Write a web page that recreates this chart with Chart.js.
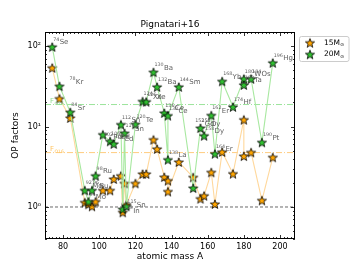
<!DOCTYPE html>
<html lang="en">
<head>
<meta charset="UTF-8">
<title>Pignatari+16 - OP factors</title>
<script src="https://cdn.jsdelivr.net/npm/chart.js@4.4.0/dist/chart.umd.min.js"></script>
<style>
    html, body { margin: 0; padding: 0; background: #ffffff; }
    #wrap { position: relative; width: 359px; height: 269px; }
</style>
</head>
<body>
<div id="wrap"><canvas id="opChart" width="359" height="269"></canvas></div>
<script>
// p-nuclei, mass number and overproduction factors
const elements = ['Se', 'Kr', 'Sr', 'Mo', 'Mo', 'Ru', 'Ru', 'Pd', 'Cd', 'Cd', 'Sn', 'In', 'Sn', 'Sn', 'Te',
    'Xe', 'Xe', 'Ba', 'Ba', 'Ce', 'La', 'Ce', 'Sm', 'Gd', 'Dy', 'Dy', 'Er', 'Er', 'Yb', 'Hf', 'W', 'Ta', 'Os', 'Pt', 'Hg'];
const massNumbers = [74, 78, 84, 92, 94, 96, 98, 102, 106, 108, 112, 113, 114, 115, 120,
    124, 126, 130, 132, 136, 138, 138, 144, 152, 156, 158, 162, 164, 168, 174, 180, 180, 184, 190, 196];
const op15 = [53.8, 22.3, 12.8, 1.14, 1.08, 1.02, 1.17, 1.61, 1.61, 2.23, 2.45, 0.86, 1.97, 1.07, 1.97,
    2.58, 2.58, 6.88, 5.28, 2.36, 2.13, 1.56, 3.63, 2.34, 1.27, 1.38, 2.7, 1.09, 4.84, 2.6, 12.2, 4.3, 4.78, 1.21, 4.15];
const op20 = [98, 31.8, 15.1, 1.61, 1.17, 1.61, 2.45, 7.95, 6.56, 6.1, 10.6, 0.94, 8.3, 1.02, 10.7,
    20.6, 20.4, 47.5, 31.2, 14.8, 3.88, 13.7, 31.2, 1.72, 9.6, 7.7, 13.8, 4.6, 36.6, 17.6, 39.3, 33, 39.3, 6.38, 62.1];
const seriesNames = ['15M', '20M'];

const fO16Level15 = 4.75;
const fO16Level20 = 18.8;
const unityLevel = 1;

const xTicks = [80, 100, 120, 140, 160, 180, 200];
const yTicks = [1, 10, 100];
const xRange = [70, 208.3];
const yRange = [0.4, 150];

// pixel nudges for labels that sit away from their star
const labelNudge = { 7: [0, 7], 1: [9, 0], 11: [0, 6], 13: [0, 3], 23: [1, -60] };

const ORANGE = '#ffa500';
const GREEN = '#2fbf2f';
const FONT = '"DejaVu Sans", sans-serif';

function starImage(fill) {
    const r = 4.8;
    const size = 12;
    const c = document.createElement('canvas');
    c.width = size;
    c.height = size;
    const g = c.getContext('2d');
    g.translate(size / 2, size / 2 + 0.6);
    g.beginPath();
    for (let i = 0; i < 10; i++) {
        const rad = i % 2 ? r * 0.42 : r;
        const a = -Math.PI / 2 + i * Math.PI / 5;
        g.lineTo(rad * Math.cos(a), rad * Math.sin(a));
    }
    g.closePath();
    g.fillStyle = fill;
    g.fill();
    g.lineWidth = 0.8;
    g.strokeStyle = '#000';
    g.stroke();
    return c;
}

const orangeStar = starImage(ORANGE);
const greenStar = starImage(GREEN);

function points(values) {
    return massNumbers.map((a, i) => ({ x: a, y: values[i] }));
}

function level(v) {
    return [{ x: xRange[0], y: v }, { x: xRange[1], y: v }];
}

const supDigits = ['\u2070', '\u00b9', '\u00b2'];

// frame, inward ticks, titles, legend and isotope labels
const decorPlugin = {
    id: 'decor',
    afterDatasetsDraw(chart) {
        const ctx = chart.ctx;
        const xs = chart.scales.x;
        const ys = chart.scales.y;
        ctx.save();
        ctx.fillStyle = '#606060';
        ctx.textBaseline = 'alphabetic';
        ctx.textAlign = 'left';
        elements.forEach((el, i) => {
            const nudge = labelNudge[i] || [0, 0];
            const px = xs.getPixelForValue(massNumbers[i]) + 1 + nudge[0];
            const py = ys.getPixelForValue(op20[i]) - 2.5 + nudge[1];
            ctx.font = '4.8px ' + FONT;
            const m = String(massNumbers[i]);
            ctx.fillText(m, px, py - 3.4);
            const w = ctx.measureText(m).width;
            ctx.font = '7px ' + FONT;
            ctx.fillText(el, px + w + 0.3, py);
        });

        // F_O16 labels
        [[fO16Level15, '#ffc460'], [fO16Level20, '#8fdc8f']].forEach(([v, col]) => {
            const py = ys.getPixelForValue(v) - 1.5;
            ctx.fillStyle = col;
            ctx.font = '7px ' + FONT;
            ctx.fillText('F', 50, py);
            ctx.font = '4.6px ' + FONT;
            ctx.fillText('O16', 54.5, py + 1.5);
        });
        ctx.restore();
    },
    afterDraw(chart) {
        const ctx = chart.ctx;
        const a = chart.chartArea;
        const xs = chart.scales.x;
        const ys = chart.scales.y;
        ctx.save();
        ctx.strokeStyle = '#000';
        ctx.lineWidth = 0.8;

        const tickX = (v, len) => {
            const px = Math.round(xs.getPixelForValue(v)) + 0.5;
            ctx.beginPath();
            ctx.moveTo(px, a.bottom); ctx.lineTo(px, a.bottom - len);
            ctx.moveTo(px, a.top); ctx.lineTo(px, a.top + len);
            ctx.stroke();
        };
        const tickY = (v, len) => {
            const py = Math.round(ys.getPixelForValue(v)) + 0.5;
            ctx.beginPath();
            ctx.moveTo(a.left, py); ctx.lineTo(a.left + len, py);
            ctx.moveTo(a.right, py); ctx.lineTo(a.right - len, py);
            ctx.stroke();
        };
        for (let v = 72; v < xRange[1]; v += 2) tickX(v, v % 20 === 0 ? 4 : 2);
        [0.1, 1, 10, 100].forEach(dec => {
            for (let k = 1; k < 10; k++) {
                const v = dec * k;
                if (v >= yRange[0] && v <= yRange[1]) tickY(v, k === 1 ? 4 : 2);
            }
        });

        ctx.lineWidth = 1;
        ctx.strokeRect(a.left + 0.5, a.top + 0.5, a.right - a.left - 1, a.bottom - a.top - 1);

        // titles
        ctx.fillStyle = '#000';
        ctx.textAlign = 'center';
        ctx.textBaseline = 'middle';
        ctx.font = '9px ' + FONT;
        ctx.fillText('Pignatari+16', (a.left + a.right) / 2, 25);
        ctx.fillText('atomic mass A', (a.left + a.right) / 2, 257);
        ctx.save();
        ctx.translate(16, (a.top + a.bottom) / 2);
        ctx.rotate(-Math.PI / 2);
        ctx.fillText('OP factors', 0, 0);
        ctx.restore();

        // legend
        ctx.beginPath();
        ctx.roundRect(299.5, 36.5, 49.5, 25, 2);
        ctx.fillStyle = 'rgba(255,255,255,0.9)';
        ctx.fill();
        ctx.strokeStyle = '#cccccc';
        ctx.lineWidth = 1;
        ctx.stroke();
        [[orangeStar, 42.7], [greenStar, 54.3]].forEach(([img, y], i) => {
            ctx.drawImage(img, 310 - img.width / 2, y - img.height / 2);
            ctx.fillStyle = '#000';
            ctx.textAlign = 'left';
            ctx.textBaseline = 'middle';
            ctx.font = '7.5px ' + FONT;
            ctx.fillText(seriesNames[i], 324, y);
            const w = ctx.measureText(seriesNames[i]).width;
            ctx.font = '4.5px ' + FONT;
            ctx.fillText('\u2299', 324 + w + 0.3, y + 2.5);
        });
        ctx.restore();
    }
};

const ctx = document.getElementById('opChart').getContext('2d');
new Chart(ctx, {
    type: 'line',
    data: {
        datasets: [
            {
                label: seriesNames[1],
                data: points(op20),
                borderColor: '#a8e8a0',
                borderWidth: 1.1,
                pointStyle: greenStar,
                order: 0
            },
            {
                label: seriesNames[0],
                data: points(op15),
                borderColor: '#ffd89c',
                borderWidth: 1.1,
                pointStyle: orangeStar,
                order: 1
            },
            {
                data: level(fO16Level20),
                borderColor: '#9be49b',
                borderWidth: 1,
                borderDash: [6, 2, 1, 2],
                pointRadius: 0,
                order: 2
            },
            {
                data: level(fO16Level15),
                borderColor: '#ffcc80',
                borderWidth: 1,
                borderDash: [6, 2, 1, 2],
                pointRadius: 0,
                order: 3
            },
            {
                data: level(unityLevel),
                borderColor: '#444444',
                borderWidth: 0.8,
                borderDash: [3, 2],
                pointRadius: 0,
                order: 4
            }
        ]
    },
    options: {
        responsive: false,
        animation: false,
        layout: { padding: { top: 32, right: 64, bottom: 0, left: 0 } },
        plugins: {
            legend: { display: false },
            tooltip: { enabled: false },
            title: { display: false }
        },
        elements: { line: { tension: 0 } },
        scales: {
            x: {
                type: 'linear',
                min: xRange[0],
                max: xRange[1],
                grid: { display: false, drawTicks: false },
                border: { display: false },
                afterBuildTicks: s => { s.ticks = xTicks.map(v => ({ value: v })); },
                afterFit: s => { s.height = 30; },
                ticks: {
                    autoSkip: false,
                    maxRotation: 0,
                    padding: 3,
                    color: '#000',
                    font: { family: FONT, size: 8 }
                }
            },
            y: {
                type: 'logarithmic',
                min: yRange[0],
                max: yRange[1],
                grid: { display: false, drawTicks: false },
                border: { display: false },
                afterBuildTicks: s => { s.ticks = yTicks.map(v => ({ value: v })); },
                afterFit: s => { s.width = 45; },
                ticks: {
                    autoSkip: false,
                    padding: 4,
                    color: '#000',
                    font: { family: FONT, size: 8 },
                    callback: v => '10' + supDigits[Math.round(Math.log10(v))]
                }
            }
        }
    },
    plugins: [decorPlugin]
});
</script>
</body>
</html>
